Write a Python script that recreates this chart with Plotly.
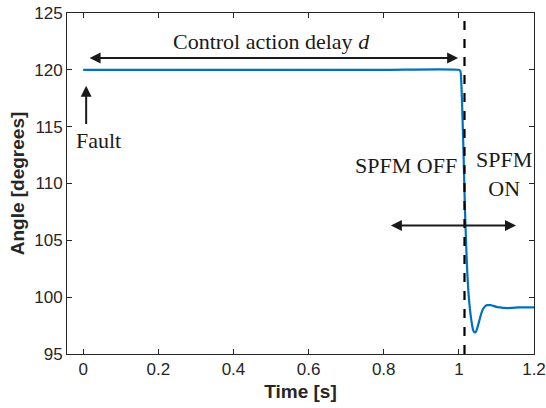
import plotly.graph_objects as go

# time [s] and rotor angle [degrees]
time_s = [0.0, 0.2, 0.4, 0.6, 0.8, 1.0, 1.004, 1.007, 1.010, 1.013, 1.016,
          1.019, 1.022, 1.026, 1.030, 1.034, 1.038, 1.042, 1.046, 1.050,
          1.055, 1.060, 1.065, 1.070, 1.075, 1.080, 1.085, 1.090, 1.100,
          1.110, 1.120, 1.140, 1.160, 1.200]
angle_deg = [120, 120, 120, 120, 120, 120, 119.9, 118.5, 115.5, 112, 108,
             105, 102.5, 100.2, 98.8, 97.8, 97.1, 96.9, 97.0, 97.4,
             98.0, 98.6, 99.0, 99.2, 99.3, 99.3, 99.3, 99.25, 99.15,
             99.1, 99.05, 99.05, 99.1, 99.1]

x_ticks = [0, 0.2, 0.4, 0.6, 0.8, 1, 1.2]
x_labels = ["0", "0.2", "0.4", "0.6", "0.8", "1", "1.2"]
y_ticks = [95, 100, 105, 110, 115, 120, 125]

switch_time = 1.015
delay_start = 0.013
delay_end = 0.998
fault_time = 0.008

AX_COLOR = "#262626"
SERIF = "Liberation Serif"

fig = go.Figure()

fig.add_trace(
    go.Scatter(
        x=time_s,
        y=angle_deg,
        mode="lines",
        line=dict(color="#0072BD", width=2.2, shape="spline", smoothing=0.6),
        showlegend=False
    )
)

fig.add_shape(
    type="line",
    x0=switch_time, x1=switch_time, y0=95, y1=125,
    xref="x", yref="y",
    line=dict(color="black", width=2.2, dash="dash")
)

arrow = dict(
    xref="x", yref="y", axref="x", ayref="y",
    text="", showarrow=True,
    arrowhead=2, arrowsize=1.1, arrowwidth=2,
    arrowcolor="#1a1a1a"
)

# control action delay arrow
fig.add_annotation(
    **arrow, x=delay_end, y=121.05, ax=delay_start, ay=121.05,
    arrowside="end+start"
)
# fault arrow
fig.add_annotation(**arrow, x=fault_time, y=118.6, ax=fault_time, ay=115.1)
# SPFM arrow
fig.add_annotation(
    **arrow, x=1.152, y=106.3, ax=0.815, ay=106.3,
    arrowside="end+start"
)

text_font = dict(family=SERIF, size=22, color="#1a1a1a")

fig.add_annotation(
    x=0.5, y=122.5, xref="x", yref="y",
    text="Control action delay <i>d</i>",
    showarrow=False, font=text_font
)
fig.add_annotation(
    x=-0.025, y=113.8, xref="x", yref="y", xanchor="left",
    text="Fault", showarrow=False, font=text_font
)
fig.add_annotation(
    x=1.0, y=111.6, xref="x", yref="y", xanchor="right",
    text="SPFM OFF", showarrow=False, font=text_font
)
fig.add_annotation(
    x=1.12, y=110.8, xref="x", yref="y",
    text="SPFM<br>ON", showarrow=False, font=text_font
)

axis_common = dict(
    showline=True, linecolor=AX_COLOR, linewidth=1,
    mirror="ticks", ticks="inside", ticklen=5, tickcolor=AX_COLOR,
    showgrid=False, zeroline=False, automargin=False,
    ticklabeloverflow="allow",
    tickfont=dict(family="Liberation Sans", size=17, color=AX_COLOR)
)

fig.update_layout(
    width=546,
    height=408,
    plot_bgcolor="white",
    paper_bgcolor="white",
    margin=dict(l=67, r=12, t=13, b=54),
    xaxis=dict(
        **axis_common,
        range=[-0.043, 1.2],
        tickvals=x_ticks,
        ticktext=x_labels,
        title=dict(
            text="<b>Time [s]</b>",
            font=dict(family="Liberation Sans", size=19, color=AX_COLOR),
            standoff=6
        )
    ),
    yaxis=dict(
        **axis_common,
        range=[95, 125],
        tickvals=y_ticks,
        title=dict(
            text="<b>Angle [degrees]</b>",
            font=dict(family="Liberation Sans", size=19, color=AX_COLOR),
            standoff=4
        )
    )
)

# drop the default body margin so the full figure fits the window
fig.write_html(
    "out.html",
    config={"displayModeBar": False},
    post_script="document.body.style.margin = '0';"
)
